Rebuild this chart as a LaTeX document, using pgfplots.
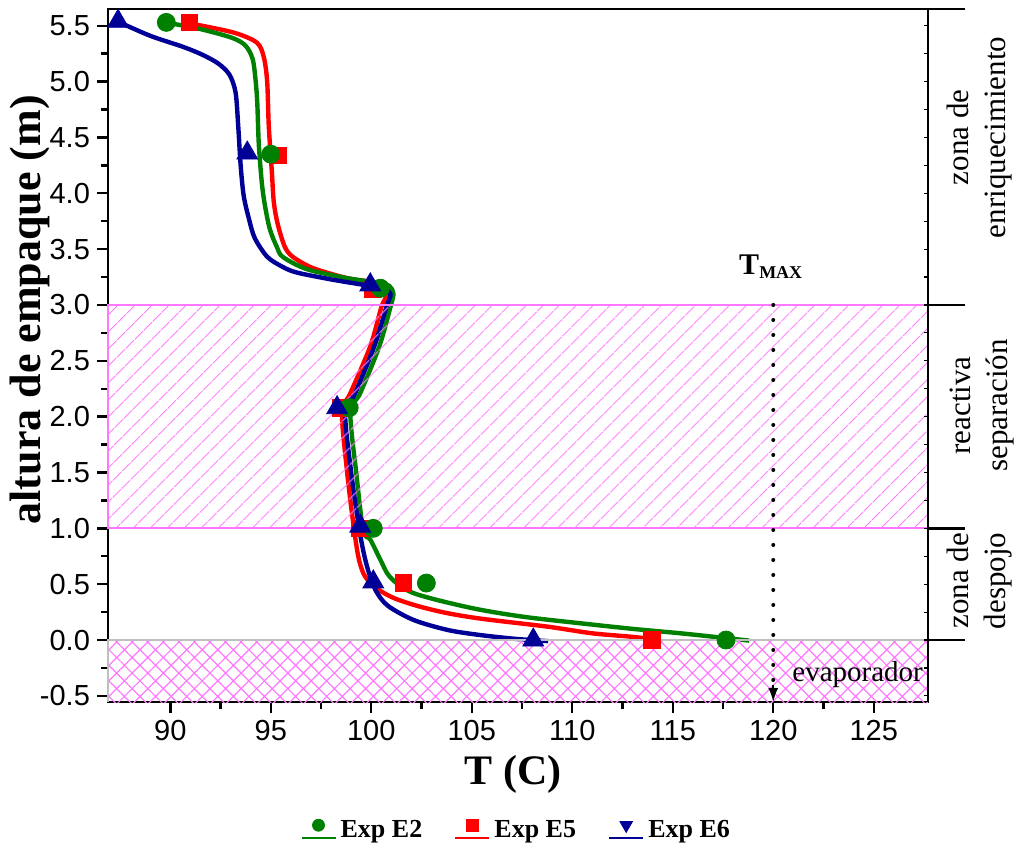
\documentclass[border=0pt]{standalone}
\usepackage{fontspec}
\setmainfont{Liberation Serif}
\setsansfont{Liberation Sans}
\usepackage{pgfplots}
\pgfplotsset{compat=1.18}
\usetikzlibrary{patterns.meta,arrows.meta}

\definecolor{eII}{RGB}{0,128,0}
\definecolor{eV}{RGB}{255,0,0}
\definecolor{eVI}{RGB}{0,0,150}
\definecolor{hatchpink}{RGB}{255,120,255}

\begin{document}
\begin{tikzpicture}
\begin{axis}[
  scale only axis, width=410pt, height=346.5pt,
  xmin=86.9, xmax=127.7, ymin=-0.555, ymax=5.65,
  xtick={90,95,100,105,110,115,120,125},
  ytick={-0.5,0,0.5,1,1.5,2,2.5,3,3.5,4,4.5,5,5.5},
  minor x tick num=1, minor y tick num=1,
  tick align=outside, xtick pos=left, ytick pos=left,
  major tick length=5.5pt, minor tick length=3.5pt,
  axis line style={line width=1.2pt},
  tick style={line width=1.2pt, black},
  /pgf/number format/assume math mode=true,
  ticklabel style={font=\sffamily\fontsize{14.5}{16}\selectfont},
  yticklabel style={/pgf/number format/fixed, /pgf/number format/fixed zerofill, /pgf/number format/precision=1},
  xlabel={T (C)}, ylabel={altura de empaque (m)},
  xlabel style={at={(rel axis cs:0.494,0)}, anchor=center, yshift=-36pt, font=\bfseries\fontsize{21}{24}\selectfont},
  ylabel style={at={(rel axis cs:0,0.566)}, anchor=center, yshift=39pt, font=\bfseries\fontsize{22}{24}\selectfont},
  clip=false,
  legend columns=3,
  legend style={draw=none, fill=none, at={(0.499,-0.185)}, anchor=center,
    font=\bfseries\fontsize{13}{15}\selectfont,
    /tikz/every even column/.append style={column sep=14pt}},
  legend image code/.code={%
    \draw[#1, mark=none, line width=1.1pt] (0pt,-4pt) -- (17pt,-4pt);
    \draw[#1, line width=0.4pt] plot coordinates {(8.5pt,2.5pt)};
  },
]
% smoothed profiles
\addplot[eV, line width=2.2pt, smooth, forget plot] coordinates {
 (91.0,5.52) (93.13,5.44) (94.3,5.35) (94.65,5.22) (94.82,5.0) (94.9,4.6) (95.05,4.2) (95.15,3.92) (95.35,3.72) (95.7,3.52) (96.1,3.43) (97.1,3.33) (98.8,3.24) (100.2,3.2) (100.6,3.16)
 (100.75,3.08) (100.5,2.98) (99.95,2.63) (98.96,2.21) (98.54,2.04) (98.8,1.5) (99.1,1.05) (99.35,0.75) (99.6,0.6) (99.95,0.51) (100.45,0.44) (101.2,0.37) (102.4,0.30) (103.8,0.24) (105.5,0.19) (108.76,0.12) (111,0.06) (112.9,0.03) (114.4,0.0)};
\addplot[eII, line width=2.2pt, smooth, forget plot] coordinates {
 (89.75,5.53) (91.5,5.47) (93.1,5.39) (93.75,5.32) (94.1,5.2) (94.25,5.0) (94.33,4.8) (94.4,4.45) (94.55,4.1) (94.7,3.9) (94.95,3.68) (95.3,3.52) (95.6,3.43) (96.8,3.32) (98.8,3.24) (100.3,3.2) (100.9,3.17)
 (101.1,3.1) (100.95,2.98) (100.4,2.63) (99.45,2.21) (98.96,2.04) (99.25,1.5) (99.6,0.98) (99.95,0.9) (100.45,0.72) (100.95,0.56) (102.1,0.42) (104.9,0.29) (107.5,0.21) (110.4,0.15) (113,0.1) (115.4,0.06) (117.5,0.02) (118.8,-0.005)};
\addplot[eVI, line width=2.2pt, smooth, forget plot] coordinates {
 (87.36,5.54) (89.0,5.41) (90.65,5.31) (91.6,5.24) (92.4,5.16) (92.95,5.06) (93.25,4.9) (93.38,4.6) (93.5,4.25) (93.65,3.98) (93.9,3.78) (94.2,3.6) (94.83,3.43) (95.6,3.34) (96.3,3.29) (97.96,3.23) (99.6,3.18) (100.5,3.15)
 (100.95,3.1) (100.75,2.98) (100.15,2.63) (99.2,2.21) (98.7,2.04) (99.0,1.5) (99.35,1.05) (99.6,0.8) (99.85,0.62) (100.2,0.45) (100.8,0.31) (102.1,0.18) (103.8,0.09) (105.4,0.045) (107.2,0.01) (108.8,-0.01)};
% measured points
\addplot[only marks, mark=square*, mark size=4.2pt, color=eV, forget plot] coordinates {
 (90.95,5.53) (95.35,4.34) (100.1,3.14) (98.5,2.08) (99.45,1.0) (101.6,0.51) (113.98,0.0)};
\addplot[only marks, mark=*, mark size=4.5pt, color=eII, forget plot] coordinates {
 (89.8,5.53) (95.0,4.35) (100.45,3.15) (98.9,2.08) (100.1,1.0) (102.74,0.51) (117.65,0.0)};
\addplot[only marks, mark=triangle*, mark size=6pt, color=eVI, forget plot] coordinates {
 (87.4,5.54) (93.83,4.36) (99.95,3.18) (98.3,2.08) (99.45,1.02) (100.1,0.52) (108.06,0.0)};
% zones
\fill[pattern={Lines[angle=45,distance=6.5pt,line width=0.6pt]}, pattern color=hatchpink]
  (axis cs:86.9,1) rectangle (axis cs:127.7,3);
\draw[hatchpink, line width=0.9pt] (axis cs:86.9,1) rectangle (axis cs:127.7,3);
\fill[pattern={Hatch[angle=45,distance=5.5pt,line width=0.6pt]}, pattern color=hatchpink]
  (axis cs:86.9,-0.555) rectangle (axis cs:127.7,0);
\draw[black!25, line width=1pt] (axis cs:86.9,-0.555) -- (axis cs:86.9,0) -- (axis cs:127.7,0);
% T max marker
\draw[line width=2pt, dash pattern=on 0pt off 7.5pt, line cap=round, shorten >=6pt]
  (axis cs:120,3.0) -- (axis cs:120,-0.555);
\draw[line width=1pt, -{Latex[length=7pt,width=5pt]}]
  (axis cs:120,-0.4) -- (axis cs:120,-0.555);
\node[font=\bfseries\fontsize{15}{17}\selectfont] at (axis cs:119.9,3.34)
  {T\textsubscript{\fontsize{9}{10}\selectfont MAX}};
\node[font=\fontsize{14.5}{17}\selectfont] at (axis cs:124.2,-0.31) {evaporador};
% zone names
\node[rotate=90, align=center, font=\fontsize{15.5}{18.5}\selectfont] at ([xshift=26pt]axis cs:127.7,4.5) {zona de\\enriquecimiento};
\node[rotate=90, align=center, font=\fontsize{15.5}{18.5}\selectfont] at ([xshift=27pt]axis cs:127.7,2.1) {reactiva\\separación};
\node[rotate=90, align=center, font=\fontsize{15.5}{18.5}\selectfont] at ([xshift=26pt]axis cs:127.7,0.53) {zona de\\despojo};
% legend
\addlegendimage{eII, mark=*, mark size=3pt}
\addlegendentry{Exp E2}
\addlegendimage{eV, mark=square*, mark size=3pt}
\addlegendentry{Exp E5}
\addlegendimage{eVI, mark=triangle*, mark size=3.6pt, mark options={rotate=180}}
\addlegendentry{Exp E6}
\end{axis}
% right frame: small inner ticks and zone separators
\begin{axis}[
  scale only axis, width=410pt, height=346.5pt,
  xmin=86.9, xmax=127.7, ymin=-0.555, ymax=5.65,
  axis y line*=right, hide x axis,
  axis line style={line width=1.2pt},
  ytick={-0.5,-0.25,0,0.25,0.5,0.75,1,1.25,1.5,1.75,2,2.25,2.5,2.75,3,3.25,3.5,3.75,4,4.25,4.5,4.75,5,5.25,5.5},
  yticklabels={}, ytick align=inside, major tick length=2pt,
  tick style={line width=0.6pt, black},
  extra y ticks={0,1,3,5.65}, extra y tick labels={},
  extra y tick style={ytick align=outside, major tick length=18.5pt, tick style={line width=1.2pt}},
]
\end{axis}
\pgfresetboundingbox
\path[use as bounding box] (-54pt,-75pt) rectangle (456pt,351pt);
\end{tikzpicture}
\end{document}
